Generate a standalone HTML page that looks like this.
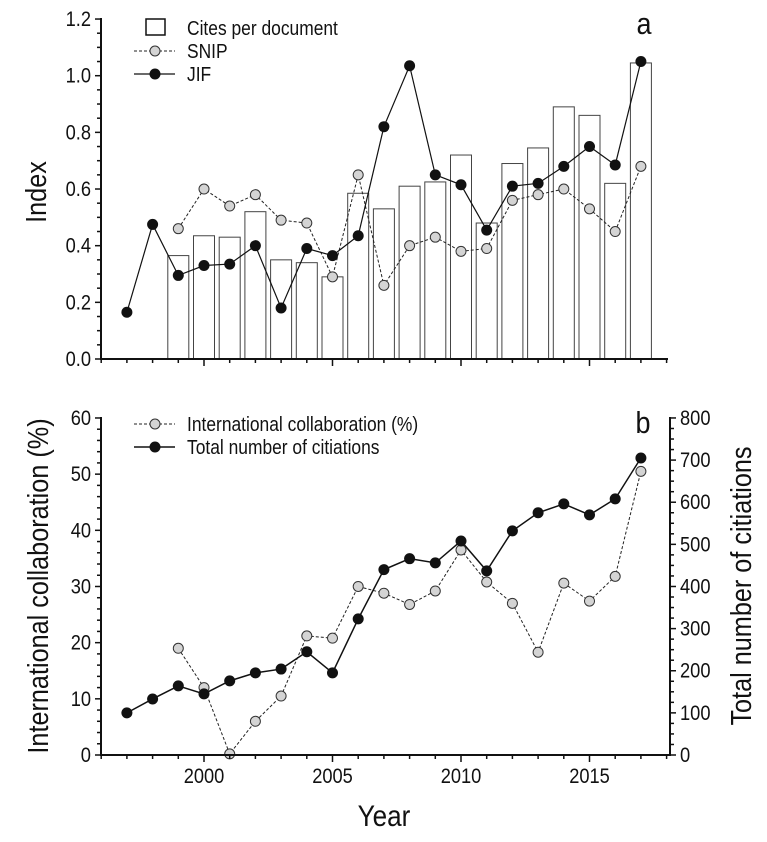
<!DOCTYPE html>
<html><head><meta charset="utf-8"><style>
body{margin:0;background:#fff;}
svg text{font-family:"Liberation Sans Narrow","Liberation Sans",sans-serif;fill:#111;}
</style></head><body>
<svg id="chart" width="767" height="837" viewBox="0 0 767 837" xmlns="http://www.w3.org/2000/svg"></svg>
<script>
const years=[1997,1998,1999,2000,2001,2002,2003,2004,2005,2006,2007,2008,2009,2010,2011,2012,2013,2014,2015,2016,2017];
const yearsB=[1999,2000,2001,2002,2003,2004,2005,2006,2007,2008,2009,2010,2011,2012,2013,2014,2015,2016,2017];
const citesPerDoc=[0.365,0.435,0.43,0.52,0.35,0.34,0.29,0.585,0.53,0.61,0.625,0.72,0.48,0.69,0.745,0.89,0.86,0.62,1.045];
const snip=[0.46,0.60,0.54,0.58,0.49,0.48,0.29,0.65,0.26,0.40,0.43,0.38,0.39,0.56,0.58,0.60,0.53,0.45,0.68];
const jif=[0.165,0.475,0.295,0.33,0.335,0.40,0.18,0.39,0.365,0.435,0.82,1.035,0.65,0.615,0.455,0.61,0.62,0.68,0.75,0.685,1.05];
const intlCollab=[19,12,0.2,6,10.5,21.2,20.8,30,28.8,26.8,29.2,36.5,30.8,27,18.3,30.6,27.4,31.8,50.5];
const citations=[100,133,164,145,176,195,204,245,195,323,440,466,456,508,437,532,575,596,570,608,705];
const topTicks=[0,0.2,0.4,0.6,0.8,1.0,1.2];
const leftTicksB=[0,10,20,30,40,50,60];
const rightTicksB=[0,100,200,300,400,500,600,700,800];
const xTicks=[2000,2005,2010,2015];

const svg=document.getElementById('chart');
const NS='http://www.w3.org/2000/svg';
function mk(tag,attrs,parent){const e=document.createElementNS(NS,tag);for(const k in attrs)e.setAttribute(k,attrs[k]);(parent||svg).appendChild(e);return e;}
const X0=101,X1=668;
const x=y=>204+(y-2000)*25.7;
const yTop=v=>359-v*283.3;
const yL=v=>755-v*5.617;
const yR=v=>755-v*0.4213;

// ---- Panel a ----
const ga=mk('g',{});


citesPerDoc.forEach((v,i)=>{const r=mk('rect',{x:x(yearsB[i])-10.5,y:yTop(v),width:21,height:359-yTop(v),fill:'#fff',stroke:'#444','stroke-width':1},ga);

});
mk('polyline',{points:snip.map((v,i)=>x(yearsB[i])+','+yTop(v)).join(' '),fill:'none',stroke:'#222','stroke-width':1,'stroke-dasharray':'3,2'},ga);
snip.forEach((v,i)=>{const c=mk('circle',{cx:x(yearsB[i]),cy:yTop(v),r:5,fill:'#d4d4d4',stroke:'#333','stroke-width':1},ga);

});
mk('polyline',{points:jif.map((v,i)=>x(years[i])+','+yTop(v)).join(' '),fill:'none',stroke:'#111','stroke-width':1.2},ga);
jif.forEach((v,i)=>{const c=mk('circle',{cx:x(years[i]),cy:yTop(v),r:5.5,fill:'#111'},ga);

});
mk('line',{x1:X0,y1:18,x2:X0,y2:360,stroke:'#111','stroke-width':2},ga);
mk('line',{x1:X0,y1:359,x2:X1,y2:359,stroke:'#111','stroke-width':2},ga);
for(let v=0;v<=1.2001;v+=0.05){const maj=Math.abs(v*5-Math.round(v*5))<1e-6;mk('line',{x1:X0-(maj?6:4),y1:yTop(v),x2:X0,y2:yTop(v),stroke:'#111','stroke-width':1.5},ga);}
topTicks.forEach(v=>{const t=mk('text',{x:X0-10,y:yTop(v)+7,'text-anchor':'end','font-size':21},ga);t.textContent=v.toFixed(1);});
for(let yy=1996;yy<=2018;yy++){const maj=yy%5===0;mk('line',{x1:x(yy),y1:359,x2:x(yy),y2:359+(maj?7:4),stroke:'#111','stroke-width':1.5},ga);}
let t=mk('text',{x:46,y:192,'text-anchor':'middle','font-size':29,transform:'rotate(-90 46 192)'},ga);t.textContent='Index';

t=mk('text',{x:644,y:34,'font-size':31,'text-anchor':'middle'},ga);t.textContent='a';
const la=mk('g',{},ga);
mk('rect',{x:146,y:19,width:19,height:16,fill:'#fff',stroke:'#111','stroke-width':1.5},la);
t=mk('text',{x:187,y:35,'font-size':20},la);t.textContent='Cites per document';
mk('line',{x1:134,y1:51,x2:175,y2:51,stroke:'#222','stroke-width':1,'stroke-dasharray':'3,2'},la);
mk('circle',{cx:155,cy:51,r:5,fill:'#d4d4d4',stroke:'#333'},la);
t=mk('text',{x:187,y:58,'font-size':20},la);t.textContent='SNIP';
mk('line',{x1:134,y1:74,x2:175,y2:74,stroke:'#111','stroke-width':1.2},la);
mk('circle',{cx:155,cy:74,r:5.5,fill:'#111'},la);
t=mk('text',{x:187,y:81,'font-size':20},la);t.textContent='JIF';

// ---- Panel b ----
const gb=mk('g',{});


mk('polyline',{points:intlCollab.map((v,i)=>x(yearsB[i])+','+yL(v)).join(' '),fill:'none',stroke:'#222','stroke-width':1,'stroke-dasharray':'3,2'},gb);
mk('polyline',{points:citations.map((v,i)=>x(years[i])+','+yR(v)).join(' '),fill:'none',stroke:'#111','stroke-width':1.5},gb);
intlCollab.forEach((v,i)=>{const c=mk('circle',{cx:x(yearsB[i]),cy:yL(v),r:5,fill:'#d4d4d4',stroke:'#333'},gb);

});
citations.forEach((v,i)=>{const c=mk('circle',{cx:x(years[i]),cy:yR(v),r:5.5,fill:'#111'},gb);

});
mk('line',{x1:X0,y1:417,x2:X0,y2:756,stroke:'#111','stroke-width':2},gb);
mk('line',{x1:670,y1:417,x2:670,y2:756,stroke:'#111','stroke-width':2},gb);
mk('line',{x1:X0,y1:755,x2:670,y2:755,stroke:'#111','stroke-width':2},gb);
for(let v=0;v<=60;v+=2){const maj=v%10===0;mk('line',{x1:X0-(maj?6:4),y1:yL(v),x2:X0,y2:yL(v),stroke:'#111','stroke-width':1.5},gb);}
for(let v=0;v<=800;v+=25){const maj=v%100===0;mk('line',{x1:670,y1:yR(v),x2:670+(maj?6:4),y2:yR(v),stroke:'#111','stroke-width':1.5},gb);}
leftTicksB.forEach(v=>{const t=mk('text',{x:X0-10,y:yL(v)+7,'text-anchor':'end','font-size':21},gb);t.textContent=v;});
rightTicksB.forEach(v=>{const t=mk('text',{x:680,y:yR(v)+7,'font-size':21},gb);t.textContent=v;});
for(let yy=1996;yy<=2018;yy++){const maj=yy%5===0;mk('line',{x1:x(yy),y1:755,x2:x(yy),y2:755+(maj?7:4),stroke:'#111','stroke-width':1.5},gb);}
xTicks.forEach(v=>{const t=mk('text',{x:x(v),y:783,'text-anchor':'middle','font-size':21},gb);t.textContent=v;});
t=mk('text',{x:384,y:826,'text-anchor':'middle','font-size':30},gb);t.textContent='Year';

t=mk('text',{x:48,y:586,'text-anchor':'middle','font-size':29,transform:'rotate(-90 48 586)'},gb);t.textContent='International collaboration (%)';

t=mk('text',{x:751,y:586,'text-anchor':'middle','font-size':29,transform:'rotate(-90 751 586)'},gb);t.textContent='Total number of citiations';

t=mk('text',{x:643,y:433,'font-size':31,'text-anchor':'middle'},gb);t.textContent='b';
const lb=mk('g',{},gb);
mk('line',{x1:134,y1:424,x2:175,y2:424,stroke:'#222','stroke-width':1,'stroke-dasharray':'3,2'},lb);
mk('circle',{cx:155,cy:424,r:5,fill:'#d4d4d4',stroke:'#333'},lb);
t=mk('text',{x:187,y:431,'font-size':20},lb);t.textContent='International collaboration (%)';
mk('line',{x1:134,y1:447,x2:175,y2:447,stroke:'#111','stroke-width':1.5},lb);
mk('circle',{cx:155,cy:447,r:5.5,fill:'#111'},lb);
t=mk('text',{x:187,y:454,'font-size':20},lb);t.textContent='Total number of citiations';

// condense text to mimic narrow font
svg.querySelectorAll('text').forEach(el=>{const w=el.getComputedTextLength();if(w>0){el.setAttribute('textLength',(w*0.87).toFixed(1));el.setAttribute('lengthAdjust','spacingAndGlyphs');}});
</script>
</body></html>
